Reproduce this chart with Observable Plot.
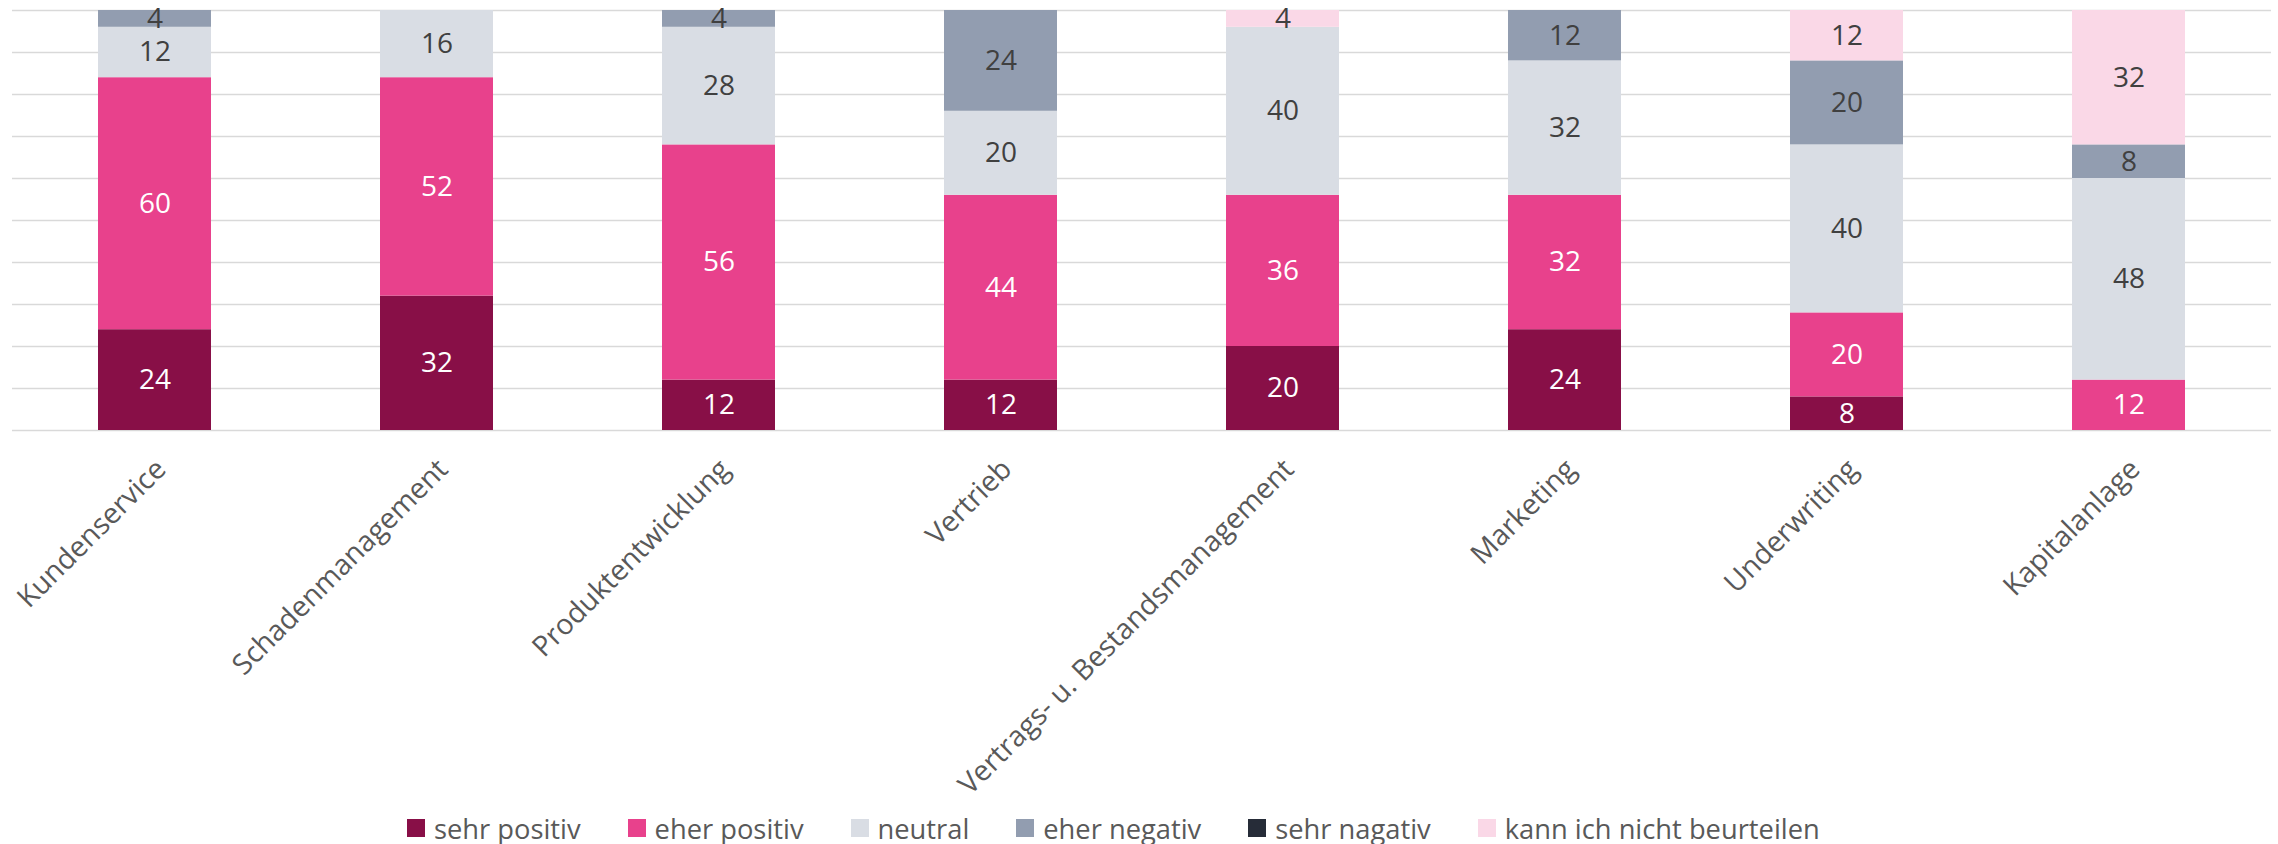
<!DOCTYPE html>
<html>
<head>
<meta charset="utf-8">
<script src="https://cdn.jsdelivr.net/npm/d3@7"></script>
<script src="https://cdn.jsdelivr.net/npm/@observablehq/plot@0.6"></script>
<style>
  html, body { margin: 0; padding: 0; background: #fff; }
  #chart svg { overflow: visible; display: block; }
  #legend { display: flex; align-items: center; gap: 47px; padding-left: 407px; height: 32px;
            font-family: "Open Sans", sans-serif; font-size: 27.3px; color: #595959; white-space: nowrap; }
  #legend .item { display: flex; align-items: center; }
  #legend .sw { width: 18px; height: 18px; margin-right: 9px; }
</style>
</head>
<body>
<div id="chart"></div>
<div id="legend"></div>
<script>
const categories = ["Kundenservice", "Schadenmanagement", "Produktentwicklung", "Vertrieb",
  "Vertrags- u. Bestandsmanagement", "Marketing", "Underwriting", "Kapitalanlage"];
const series = ["sehr positiv", "eher positiv", "neutral", "eher negativ", "sehr nagativ", "kann ich nicht beurteilen"];
const colors = ["#880F47", "#E8418C", "#D9DDE4", "#929DB0", "#262C38", "#FAD8E7"];
const labelColors = ["#ffffff", "#ffffff", "#404040", "#404040", "#ffffff", "#404040"];

const sehrPositiv  = [24, 32, 12, 12, 20, 24,  8,  0];
const eherPositiv  = [60, 52, 56, 44, 36, 32, 20, 12];
const neutral      = [12, 16, 28, 20, 40, 32, 40, 48];
const eherNegativ  = [ 4,  0,  4, 24,  0, 12, 20,  8];
const sehrNegativ  = [ 0,  0,  0,  0,  0,  0,  0,  0];
const kannNicht    = [ 0,  0,  0,  0,  4,  0, 12, 32];
const gridTicks = [0, 10, 20, 30, 40, 50, 60, 70, 80, 90, 100];

const seriesValues = [sehrPositiv, eherPositiv, neutral, eherNegativ, sehrNegativ, kannNicht];
const data = [];
series.forEach((s, si) => {
  categories.forEach((c, ci) => {
    const v = seriesValues[si][ci];
    if (v > 0) data.push({category: c, series: s, value: v, si});
  });
});

const W = 2278, H = 812;
const chart = Plot.plot({
  width: W,
  height: H,
  marginTop: 10,
  marginBottom: H - 430,
  marginLeft: 12,
  marginRight: 7,
  style: {fontFamily: "'Open Sans', sans-serif", background: "#fff", overflow: "visible"},
  x: {domain: categories, paddingInner: 0.6, paddingOuter: 0.3, axis: null},
  y: {domain: [0, 100], axis: null},
  color: {domain: series, range: colors},
  marks: [
    Plot.ruleY(gridTicks, {stroke: "#D9D9D9", strokeWidth: 1.6}),
    Plot.barY(data, Plot.stackY({x: "category", y: "value", z: "series", fill: "series", order: series})),
    Plot.text(data, Plot.stackY({
      x: "category", y: "value", z: "series", order: series,
      text: d => String(d.value),
      fill: d => labelColors[d.si],
      fontSize: 28
    })),
    Plot.text(categories, {
      x: d => d,
      frameAnchor: "bottom",
      text: d => d,
      rotate: -45,
      textAnchor: "end",
      lineAnchor: "middle",
      dx: 6,
      dy: 34,
      fontSize: 28.5,
      fill: "#595959"
    })
  ]
});
document.getElementById("chart").appendChild(chart);

const legend = document.getElementById("legend");
series.forEach((s, i) => {
  const item = document.createElement("div");
  item.className = "item";
  const sw = document.createElement("div");
  sw.className = "sw";
  sw.style.background = colors[i];
  const t = document.createElement("span");
  t.textContent = s;
  item.appendChild(sw);
  item.appendChild(t);
  legend.appendChild(item);
});
</script>
</body>
</html>
